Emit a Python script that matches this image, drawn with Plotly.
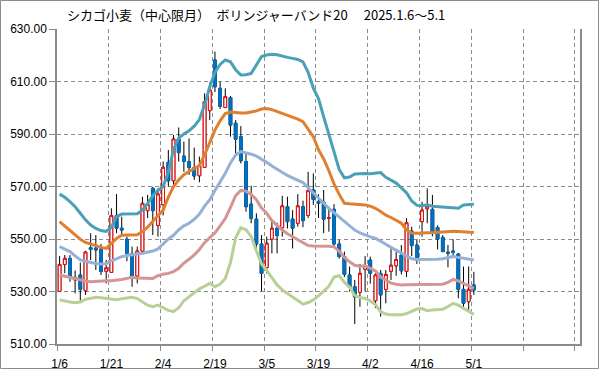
import plotly.graph_objects as go

# ---- data ----
dates = ["1/6","1/7","1/8","1/9","1/10","1/13","1/14","1/15","1/16","1/17",
         "1/21","1/22","1/23","1/24","1/27","1/28","1/29","1/30","1/31",
         "2/3","2/4","2/5","2/6","2/7","2/10","2/11","2/12","2/13","2/14",
         "2/18","2/19","2/20","2/21","2/24","2/25","2/26","2/27","2/28",
         "3/3","3/4","3/5","3/6","3/7","3/10","3/11","3/12","3/13","3/14",
         "3/17","3/18","3/19","3/20","3/21","3/24","3/25","3/26","3/27","3/28","3/31",
         "4/1","4/2","4/3","4/4","4/7","4/8","4/9","4/10","4/11","4/14","4/15","4/16",
         "4/17","4/21","4/22","4/23","4/24","4/25","4/28","4/29","4/30","5/1"]

opens = [530.1,540.3,542.6,535.4,536.3,530.3,546.7,546.5,546.2,537.7,
         537.3,558.9,554.1,549.9,544.5,535.9,545.4,560.8,569.3,555.2,
         563.1,579.2,572.2,588.1,581.6,579.5,577.2,574.1,577.3,598.9,
         618.2,607.4,600.1,603.9,594.1,589.0,579.5,563.3,557.6,548.1,
         539.1,550.0,554.1,554.3,562.3,557.6,556.0,562.3,559.0,568.7,
         564.3,564.0,557.9,561.3,548.1,543.3,536.3,531.8,529.7,538.5,
         542.0,526.5,536.9,530.8,537.7,539.8,543.9,537.7,553.0,547.7,
         556.6,561.5,561.3,554.4,550.6,545.0,545.4,544.3,530.8,526.1,532.5]
highs = [543.5,543.9,543.9,538.0,541.0,545.5,552.2,551.5,548.1,542.0,
         561.7,567.1,558.5,550.9,547.1,547.1,566.1,566.8,569.9,569.3,
         579.5,583.9,589.6,592.5,587.1,588.3,584.8,581.4,605.5,609.6,
         621.4,609.9,607.4,604.5,595.3,593.0,582.6,570.3,559.8,551.5,
         550.9,556.6,556.2,566.4,566.1,561.0,567.1,564.6,575.6,575.0,
         567.0,568.7,562.3,563.3,549.6,545.2,539.5,534.4,540.5,543.5,
         543.3,536.9,538.2,538.2,547.1,545.8,547.7,557.9,554.7,549.6,
         564.2,569.3,566.8,555.2,551.5,547.7,549.9,544.5,539.5,539.5,537.5]
lows = [529.8,537.0,533.7,529.3,526.5,528.7,542.0,538.2,536.3,533.1,
        537.3,552.2,550.9,541.5,531.8,533.1,545.0,558.0,551.5,550.9,
        559.0,569.9,569.9,579.5,575.6,574.4,572.5,571.6,577.3,595.3,
        606.0,599.5,599.8,589.0,582.6,578.8,560.4,556.0,546.4,530.1,
        536.9,544.5,544.5,550.9,554.0,546.4,554.7,554.5,558.0,563.0,
        558.0,552.2,552.8,547.0,542.5,535.5,530.0,517.6,524.2,530.0,
        533.0,523.7,520.4,525.5,534.4,536.0,536.5,535.5,543.5,540.5,
        550.9,556.0,551.0,546.0,545.0,539.2,543.0,527.4,523.2,523.0,528.7]
closes = [540.3,542.6,535.4,534.4,530.8,545.0,546.0,545.8,537.6,539.0,
          558.9,554.1,553.4,544.5,535.9,545.4,563.6,563.2,560.8,567.1,
          577.3,572.2,588.1,582.9,579.5,577.2,574.0,577.9,602.3,606.8,
          608.0,600.5,604.2,593.4,588.0,579.8,562.3,557.9,548.1,536.9,
          548.4,554.1,551.3,562.6,556.6,554.1,562.6,557.0,568.4,565.1,
          563.6,557.5,558.1,548.1,543.3,536.5,531.6,528.0,536.9,539.8,
          536.9,536.3,528.7,536.5,540.0,542.2,537.9,556.2,547.5,542.0,
          561.0,562.5,552.5,550.0,545.2,544.6,544.9,530.8,525.5,530.8,530.6]

band_plus2 = [567.1,565.9,564.2,562.3,559.8,557.3,555.3,554.0,553.2,552.9,
              554.5,558.5,559.5,559.5,559.5,559.6,561.0,563.5,566.5,568.5,
              570.0,575.5,584.0,588.5,590.0,591.2,593.0,595.5,601.0,608.0,
              613.5,616.5,618.2,617.5,614.5,612.5,612.6,613.1,616.3,619.5,
              620.1,620.4,620.2,619.6,619.2,618.8,618.4,617.5,613.5,607.5,
              603.5,596.5,590.0,583.5,576.5,573.3,573.6,574.8,575.0,575.0,
              574.9,575.0,575.3,573.5,572.5,571.3,569.5,567.6,564.5,562.8,
              562.7,563.0,562.5,562.3,562.3,562.0,561.8,561.7,563.0,563.1,563.2]
band_plus1 = [556.6,555.0,553.4,551.5,549.9,548.7,548.1,547.3,546.8,546.4,
              548.4,550.2,551.4,551.5,551.5,551.6,552.8,554.5,556.8,559.0,
              561.0,566.0,570.0,572.5,574.5,575.7,576.9,578.0,582.0,587.0,
              591.5,595.0,597.8,598.4,598.1,598.0,598.0,598.3,598.8,599.5,
              599.7,599.3,598.6,597.9,597.2,596.6,595.7,594.7,592.0,589.0,
              584.0,580.5,576.0,571.0,567.0,563.6,563.4,563.2,563.1,563.0,
              562.5,561.7,560.5,559.1,558.2,557.0,556.0,553.5,552.3,552.2,
              552.4,552.4,552.4,552.6,552.8,552.9,553.0,552.9,552.8,552.6,552.5]
band_mid = [547.1,546.2,545.2,543.6,542.0,541.5,541.0,540.7,540.5,540.6,
            541.7,542.6,543.3,543.7,543.9,544.3,544.6,545.0,545.4,546.2,
            548.0,550.0,551.4,553.5,555.0,556.0,557.5,559.5,562.5,565.0,
            568.5,571.5,575.0,579.0,582.0,583.3,582.9,582.3,581.6,580.5,
            579.2,577.8,576.5,575.3,574.2,573.3,572.4,571.5,569.5,567.4,
            565.5,563.6,561.7,560.0,558.3,556.6,555.0,553.4,552.3,551.5,
            550.8,550.3,549.0,548.0,546.8,545.8,544.8,543.8,542.5,542.2,
            542.2,542.2,542.2,542.3,542.5,542.9,543.3,543.0,542.6,542.3,542.0]
band_minus1 = [536.3,535.8,535.4,534.9,534.4,534.0,533.7,533.9,534.1,534.1,
               534.1,534.3,534.6,535.0,535.4,535.1,535.0,535.0,535.0,536.0,
               536.6,536.9,537.6,538.8,540.8,542.3,543.9,546.0,548.6,550.5,
               552.3,555.0,557.8,562.0,566.5,568.5,568.2,567.0,565.0,561.8,
               559.8,557.0,555.0,553.4,552.0,550.9,549.6,548.4,547.5,547.3,
               547.3,547.3,547.2,547.0,545.3,543.0,541.3,540.0,539.6,539.8,
               538.8,537.8,535.5,534.2,533.2,532.8,532.5,532.6,532.7,532.7,
               532.7,532.7,532.7,532.7,532.8,533.5,534.6,534.0,533.1,532.2,531.2]
band_minus2 = [526.8,526.3,526.0,525.7,526.0,527.0,527.4,527.8,527.6,527.4,
               527.0,526.9,527.2,527.5,527.8,527.3,526.0,524.8,524.2,524.8,
               523.8,522.8,522.3,523.8,526.5,528.0,529.6,531.0,532.0,533.1,
               531.8,532.8,535.0,541.0,550.5,554.3,553.5,551.0,545.5,540.5,
               538.0,535.0,532.5,530.6,529.2,528.0,526.5,525.2,525.8,526.8,
               528.3,530.0,532.0,535.5,536.0,533.5,531.6,528.5,527.6,527.4,
               526.4,525.0,522.3,521.4,521.1,521.1,521.1,521.6,522.3,523.3,
               523.5,522.7,523.0,523.2,523.2,524.3,525.5,524.8,523.7,522.3,521.3]

label_every = 10
axis_slots = 101          # the chart leaves room for 20 more trading days
title_text = "シカゴ小麦（中心限月）　ボリンジャーバンド20　 2025.1.6～5.1"

# ---- figure ----
x = list(range(len(dates)))
body_hi = [max(o, c) for o, c in zip(opens, closes)]
body_lo = [min(o, c) for o, c in zip(opens, closes)]

fig = go.Figure()
# wicks (black) underneath
fig.add_trace(go.Candlestick(
    x=x, open=opens, high=highs, low=lows, close=closes,
    increasing=dict(line=dict(color="black", width=1), fillcolor="black"),
    decreasing=dict(line=dict(color="black", width=1), fillcolor="black"),
    whiskerwidth=0, showlegend=False, hoverinfo="skip"))
# bodies on top
fig.add_trace(go.Candlestick(
    x=x, open=opens, high=body_hi, low=body_lo, close=closes,
    increasing=dict(line=dict(color="#FF0000", width=1), fillcolor="white"),
    decreasing=dict(line=dict(color="#0070C0", width=1), fillcolor="#0070C0"),
    whiskerwidth=0, showlegend=False, text=dates))

bands = [
    (band_plus2, "#4AA0B6", "+2σ"),
    (band_plus1, "#E0802F", "+1σ"),
    (band_mid, "#95B1D6", "MA20"),
    (band_minus1, "#D59595", "-1σ"),
    (band_minus2, "#B8D096", "-2σ"),
]
for vals, col, nm in bands:
    fig.add_trace(go.Scatter(x=x, y=vals, mode="lines", name=nm,
                             line=dict(color=col, width=3), showlegend=False))

grid_col = "#8C8C8C"
tick_idx = list(range(0, len(dates), label_every))
fig.update_layout(
    width=599, height=370,
    margin=dict(l=57, r=19, t=29, b=26, autoexpand=False),
    paper_bgcolor="white", plot_bgcolor="white",
    boxgap=0.25,
    showlegend=False,
    font=dict(family="Liberation Sans, Arial, sans-serif", size=12, color="black"),
    xaxis=dict(
        automargin=False,
        range=[-0.5, axis_slots - 0.5],
        rangeslider=dict(visible=False),
        tickmode="array", tickvals=tick_idx, ticktext=[dates[i] for i in tick_idx],
        ticks="outside", ticklen=8, tickcolor="rgba(0,0,0,0)",
        showgrid=False, zeroline=False,
        showline=True, linecolor=grid_col, linewidth=1.5,
        minor=dict(tickvals=[k - 0.5 for k in range(0, axis_slots + 1, label_every)],
                   ticks="outside", ticklen=5, tickcolor=grid_col,
                   showgrid=True, gridcolor=grid_col, griddash="4px,3px", gridwidth=1),
        tickfont=dict(size=12),
    ),
    yaxis=dict(
        automargin=False,
        range=[510, 630], tickmode="linear", tick0=510, dtick=20,
        tickformat=".2f", ticks="outside", ticklen=6, tickcolor=grid_col,
        showgrid=True, gridcolor=grid_col, griddash="4px,3px", gridwidth=1,
        showline=True, mirror=True, linecolor=grid_col, linewidth=1.5,
        zeroline=False, tickfont=dict(size=12),
    ),
    annotations=[dict(
        text=title_text, xref="paper", yref="paper",
        x=(65 - 57) / 523, y=(344 - 15) / 315, xanchor="left", yanchor="middle",
        showarrow=False,
        font=dict(family="Noto Sans CJK JP", size=13, color="black"))],
    shapes=[dict(type="rect", xref="paper", yref="paper",
                 x0=(0.5 - 57) / 523, x1=(598.5 - 57) / 523,
                 y0=(344 - 368.5) / 315, y1=(344 - 0.5) / 315,
                 line=dict(color="#8C8C8C", width=1), layer="below")],
)

fig.write_html("out.html",
               config={"displayModeBar": False},
               post_script="document.body.style.margin='0px';document.body.style.overflow='hidden';")
